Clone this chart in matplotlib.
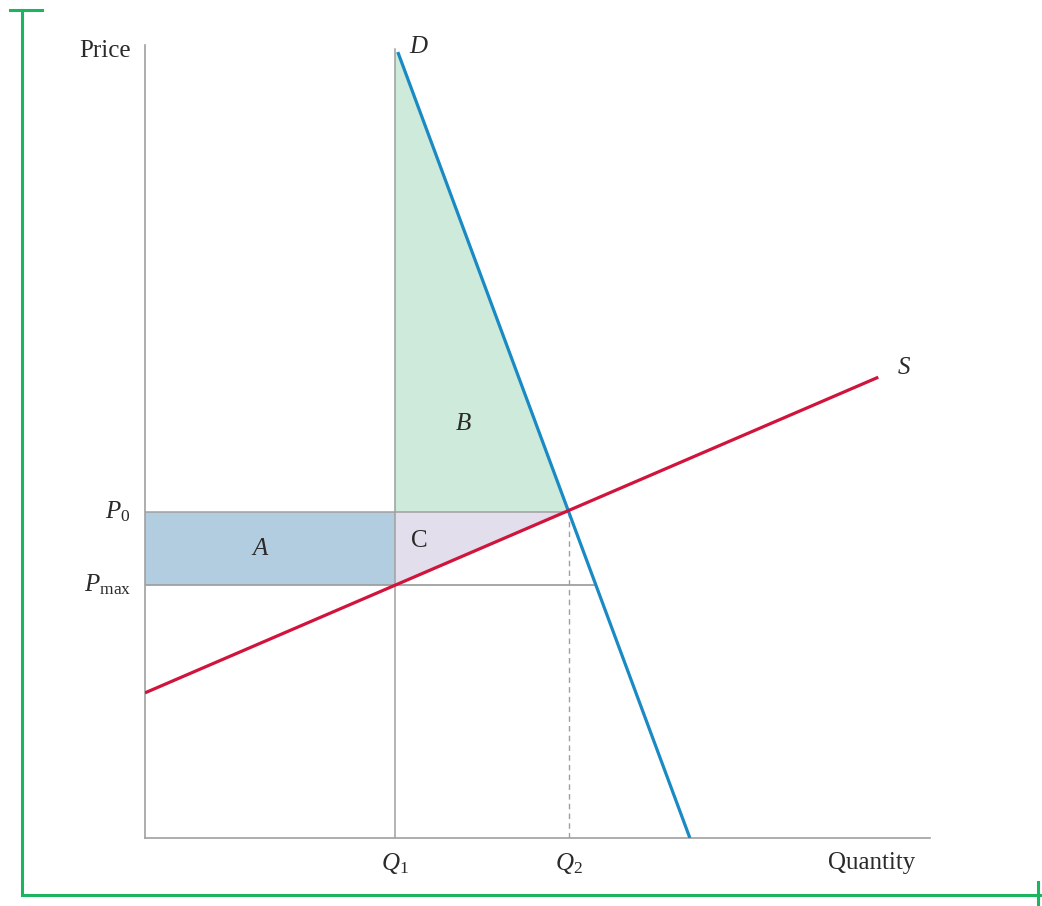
import matplotlib
matplotlib.use('Agg')
import matplotlib.pyplot as plt
from matplotlib.lines import Line2D

# quantities and prices (arbitrary units)
q1 = 3.18
q2 = 5.40
p0 = 4.11
pmax = 3.19

# demand curve end points (quantity, price)
demand_q = [3.22, 6.94]
demand_p = [9.91, 0.0]

# supply curve end points
supply_q = [0.0, 9.34]
supply_p = [1.83, 5.81]

plt.rcParams['font.family'] = ['Liberation Serif', 'DejaVu Serif']
plt.rcParams['mathtext.fontset'] = 'custom'
plt.rcParams['mathtext.rm'] = 'Liberation Serif'
plt.rcParams['mathtext.it'] = 'Liberation Serif:italic'
plt.rcParams['text.color'] = '#2a2a2a'

fig = plt.figure(figsize=(10.42, 9.06), dpi=100)
ax = fig.add_axes([0.1392, 0.0751, 0.7534, 0.8753])
ax.set_xlim(0, 10)
ax.set_ylim(0, 10)

gray = '#a0a0a0'
for side in ['top', 'right']:
    ax.spines[side].set_visible(False)
for side in ['left', 'bottom']:
    ax.spines[side].set_color(gray)
    ax.spines[side].set_linewidth(1.2)
ax.set_xticks([])
ax.set_yticks([])

d_slope = (demand_p[1] - demand_p[0]) / (demand_q[1] - demand_q[0])

# shaded areas
ax.fill([0, q1, q1, 0], [pmax, pmax, p0, p0], color='#b3cde0', lw=0, zorder=1)
ax.fill([q1, q1, demand_q[0], q2], [p0, demand_p[0], demand_p[0], p0],
        color='#cdeadb', lw=0, zorder=1)
ax.fill([q1, q1, q2], [pmax, p0, p0], color='#e2deec', lw=0, zorder=1)

# guide lines
ax.plot([q1, q1], [0, 9.95], color=gray, lw=1.1, zorder=2)
ax.plot([0, q2], [p0, p0], color=gray, lw=1.1, zorder=2)
q_at_pmax = demand_q[0] + (pmax - demand_p[0]) / d_slope
ax.plot([0, q_at_pmax], [pmax, pmax], color=gray, lw=1.3, zorder=2)
ax.plot([q2, q2], [0, p0], color=gray, lw=1.0, ls=(0, (4, 3)), zorder=2)

# curves
ax.plot(demand_q, demand_p, color='#1a8ac4', lw=2.3, zorder=3, solid_capstyle='butt')
ax.plot(supply_q, supply_p, color='#d0143c', lw=2.3, zorder=3, solid_capstyle='butt')

fs = 18
ax.text(demand_q[0] + 0.15, demand_p[0] + 0.07, 'D', fontsize=fs, style='italic',
        ha='left', va='center')
ax.text(supply_q[1] + 0.25, supply_p[1] + 0.12, 'S', fontsize=fs, style='italic',
        ha='left', va='center')
ax.text(1.46, 3.65, 'A', fontsize=fs, style='italic', ha='center', va='center')
ax.text(4.05, 5.22, 'B', fontsize=fs, style='italic', ha='center', va='center')
ax.text(3.5, 3.74, 'C', fontsize=fs, ha='center', va='center')

ax.text(-0.18, p0 + 0.0, '$P_0$', fontsize=fs, ha='right', va='center')
ax.text(-0.18, pmax + 0.0, r'$P_{\mathrm{max}}$', fontsize=fs, ha='right', va='center')
ax.text(q1, -0.32, '$Q_1$', fontsize=fs, ha='center', va='center')
ax.text(q2, -0.32, '$Q_2$', fontsize=fs, ha='center', va='center')
ax.text(-0.18, 9.92, 'Price', fontsize=fs, ha='right', va='center')
ax.text(9.26, -0.32, 'Quantity', fontsize=fs, ha='center', va='center')

# green bracket around the figure
green = '#1bb461'
W, H = 1042, 906
def fline(xs, ys):
    fig.add_artist(Line2D([x / W for x in xs], [1 - y / H for y in ys],
                          color=green, lw=2.2, transform=fig.transFigure))
fline([22, 22], [10, 895])
fline([10, 42], [10, 10])
fline([22, 1040], [895, 895])
fline([1038, 1038], [882, 906])

fig.savefig('out.png', dpi=100)
